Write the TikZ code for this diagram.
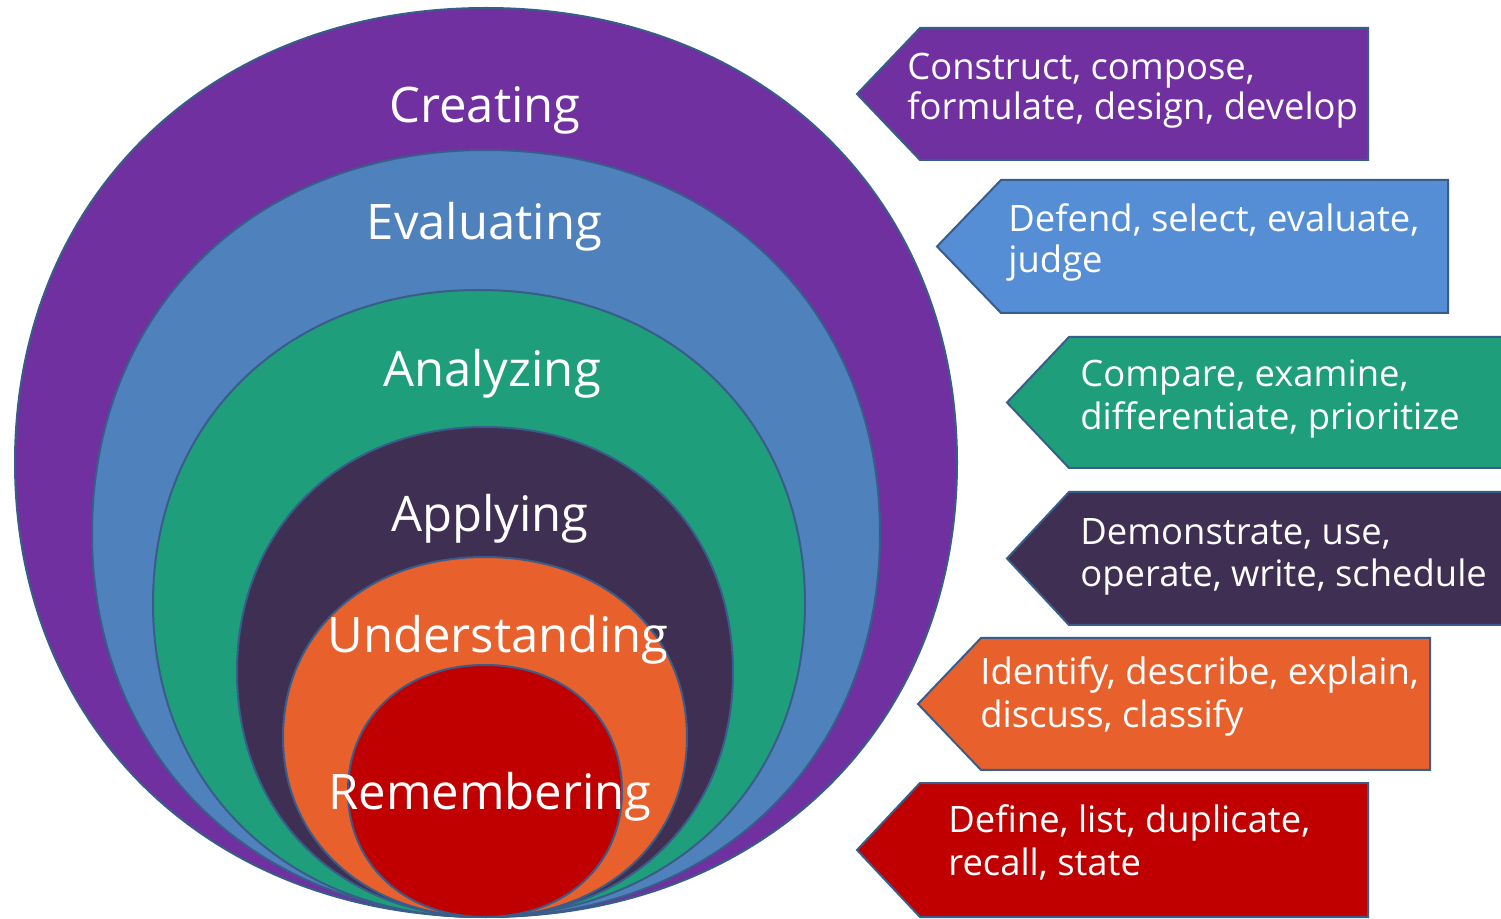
\documentclass[tikz,border=0pt]{standalone}
\usepackage{fontspec}
\setmainfont{Open Sans}
\definecolor{cPurple}{HTML}{7030A0}
\definecolor{cBlue}{HTML}{4F81BD}
\definecolor{cBlueBox}{HTML}{558ED5}
\definecolor{cGreen}{HTML}{1F9E7B}
\definecolor{cDark}{HTML}{3F2F52}
\definecolor{cOrange}{HTML}{E8602C}
\definecolor{cRed}{HTML}{C00000}
\definecolor{cLine}{HTML}{385D8A}
% rounded-square ellipse: fill colour, cx, cy, rx, ry
\newcommand{\bloomring}[5]{%
  \pgfmathsetmacro{\kx}{0.585*#4}\pgfmathsetmacro{\ky}{0.585*#5}%
  \draw[ring,fill=#1]
    ({#2+#4},{#3}) .. controls ({#2+#4},{#3-\ky}) and ({#2+\kx},{#3-#5}) .. ({#2},{#3-#5})
    .. controls ({#2-\kx},{#3-#5}) and ({#2-#4},{#3-\ky}) .. ({#2-#4},{#3})
    .. controls ({#2-#4},{#3+\ky}) and ({#2-\kx},{#3+#5}) .. ({#2},{#3+#5})
    .. controls ({#2+\kx},{#3+#5}) and ({#2+#4},{#3+\ky}) .. ({#2+#4},{#3}) -- cycle;}
\begin{document}
\begin{tikzpicture}[x=0.5pt,y=-0.5pt,
  ring/.style={draw=cLine,line width=1pt},
  tagbox/.style={draw=cLine,line width=1pt,line join=miter},
  lvl/.style={text=white,font=\fontsize{24.5}{28}\selectfont,anchor=base,inner sep=0pt},
  verb/.style={text=white,font=\fontsize{18.2}{21.5}\selectfont,anchor=base west,inner sep=0pt}]
\useasboundingbox (0,0) rectangle (1501,919);
\clip (0,0) rectangle (1501,919);
% nested rings
\bloomring{cPurple}{486}{462.5}{471}{454.5}
\bloomring{cBlue}{486}{533.5}{394}{383.5}
\bloomring{cGreen}{479}{603.5}{326}{313.5}
\bloomring{cDark}{485}{672}{248}{245}
\bloomring{cOrange}{485}{737}{202}{180}
\bloomring{cRed}{485}{791}{137}{126}
% level labels
\node[lvl] (creating) at (485,123) {Creating};
\node[lvl] (evaluating) at (484.5,240) {Evaluating};
\node[lvl] (analyzing) at (492,387) {Analyzing};
\node[lvl] (applying) at (490,532) {Applying};
\node[lvl] (understanding) at (498,653) {Understanding};
\node[lvl] (remembering) at (490,810) {Remembering};
% verb tags
\draw[tagbox,fill=cPurple] (857,94) -- (920,28) -- (1368,28) -- (1368,160) -- (920,160) -- cycle;
\draw[tagbox,fill=cBlueBox] (937,246.5) -- (1001,180) -- (1448,180) -- (1448,313) -- (1001,313) -- cycle;
\draw[tagbox,fill=cGreen] (1007,402.5) -- (1069,337) -- (1520,337) -- (1520,468) -- (1069,468) -- cycle;
\draw[tagbox,fill=cDark] (1007,558.5) -- (1069,492) -- (1520,492) -- (1520,625) -- (1069,625) -- cycle;
\draw[tagbox,fill=cOrange] (918,704) -- (981,638) -- (1430,638) -- (1430,770) -- (981,770) -- cycle;
\draw[tagbox,fill=cRed] (857,850) -- (920,783) -- (1368,783) -- (1368,917) -- (920,917) -- cycle;
% verb texts
\node[verb] (t1a) at (907,80) {Construct, compose,};
\node[verb] (t1b) at (907,120) {formulate, design, develop};
\node[verb] (t2a) at (1008,232) {Defend, select, evaluate,};
\node[verb] (t2b) at (1008,273) {judge};
\node[verb] (t3a) at (1080,387) {Compare, examine,};
\node[verb] (t3b) at (1080,430) {differentiate, prioritize};
\node[verb] (t4a) at (1080,545) {Demonstrate, use,};
\node[verb] (t4b) at (1080,587) {operate, write, schedule};
\node[verb] (t5a) at (980,685) {Identify, describe, explain,};
\node[verb] (t5b) at (980,727) {discuss, classify};
\node[verb] (t6a) at (948,833) {Define, list, duplicate,};
\node[verb] (t6b) at (948,875) {recall, state};
\end{tikzpicture}
\end{document}
